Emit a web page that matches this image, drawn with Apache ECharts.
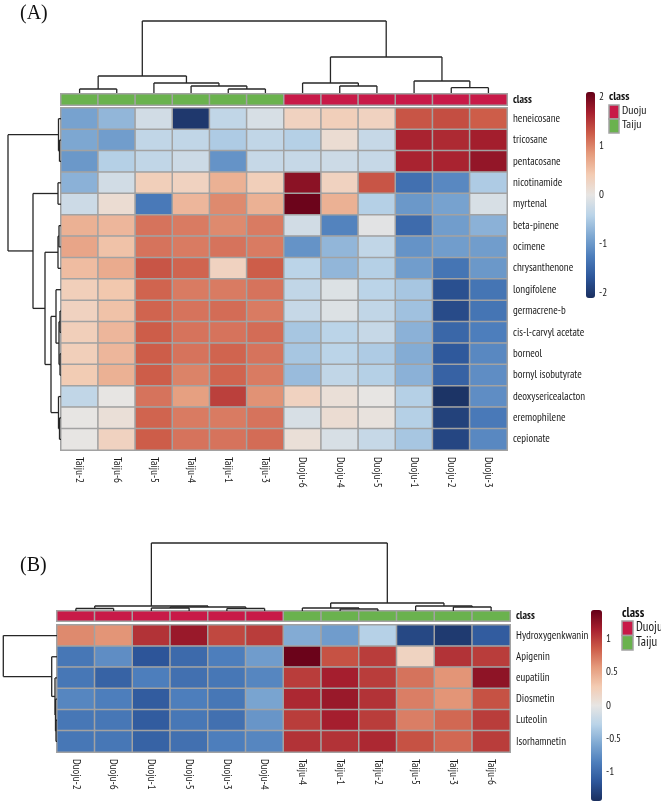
<!DOCTYPE html>
<html><head><meta charset="utf-8">
<script src="https://cdn.jsdelivr.net/npm/echarts@6/dist/echarts.min.js"></script>
<style>html,body{margin:0;padding:0;background:#fff}#c{width:661px;height:803px}</style>
</head><body><div id="c"></div><script>
// ---------- Panel A data ----------
const samplesA = ['Taiju-2','Taiju-6','Taiju-5','Taiju-4','Taiju-1','Taiju-3','Duoju-6','Duoju-4','Duoju-5','Duoju-1','Duoju-2','Duoju-3'];
const classA = [1,1,1,1,1,1,0,0,0,0,0,0]; // 0 = Duoju, 1 = Taiju
const compoundsA = ['heneicosane','tricosane','pentacosane','nicotinamide','myrtenal','beta-pinene','ocimene','chrysanthenone','longifolene','germacrene-b','cis-l-carvyl acetate','borneol','bornyl isobutyrate','deoxysericealacton','eremophilene','cepionate'];
const valuesA = [
  [-0.9,-0.7,-0.2,-2.0,-0.35,-0.15, 0.3, 0.35, 0.3, 1.3, 1.35, 1.25],
  [-0.85,-0.95,-0.35,-0.35,-0.5,-0.35,-0.45, 0.15,-0.3, 1.65, 1.6, 1.7],
  [-1.0,-0.45,-0.35,-0.25,-1.05,-0.3,-0.3,-0.25,-0.3, 1.65, 1.65, 1.8],
  [-0.75,-0.2, 0.35, 0.3, 0.65, 0.35, 1.85, 0.3, 1.3,-1.4,-1.15,-0.5],
  [-0.25, 0.15,-1.3, 0.6, 0.95, 0.65, 2.05, 0.65,-0.45,-1.0,-0.9,-0.15],
  [0.65, 0.6, 1.1, 1.05, 0.95, 1.05,-0.2,-1.2,-0.05,-1.45,-0.95,-0.75],
  [0.75, 0.5, 1.1, 1.05, 1.1, 1.05,-1.05,-0.7,-0.35,-1.05,-0.95,-0.95],
  [0.55, 0.7, 1.3, 1.2, 0.3, 1.25,-0.4,-0.7,-0.45,-0.95,-1.35,-1.0],
  [0.35, 0.45, 1.2, 1.05, 1.05, 1.1,-0.35,-0.1,-0.4,-0.55,-1.75,-1.35],
  [0.3, 0.5, 1.2, 1.1, 1.15, 1.05,-0.3,-0.1,-0.35,-0.6,-1.8,-1.35],
  [0.35, 0.6, 1.25, 1.1, 1.1, 1.15,-0.55,-0.4,-0.3,-0.75,-1.5,-1.25],
  [0.35, 0.6, 1.25, 1.1, 1.2, 1.1,-0.55,-0.4,-0.5,-0.8,-1.65,-1.15],
  [0.4, 0.65, 1.25, 1.0, 1.2, 1.05,-0.65,-0.35,-0.45,-0.75,-1.55,-1.1],
  [-0.35, 0.0, 1.1, 0.8, 1.45, 0.9, 0.3, 0.1, 0.0,-0.45,-2.05,-1.1],
  [0.0, 0.1, 1.2, 1.05, 1.05, 1.1,-0.15, 0.15, 0.05,-0.45,-1.9,-1.3],
  [0.0, 0.3, 1.25, 1.1, 1.1, 1.15, 0.1,-0.15,-0.3,-0.55,-1.85,-1.15]
];
// merges: [childA, childB, height]; leaves are 0..n-1, merge k is node n+k
const colMergesA = [[0,1,4],[4,5,4],[3,13,7],[2,14,10],[12,15,17],[7,8,7],[6,17,10],[10,11,5.3],[9,19,12],[18,20,36],[16,21,72]];
const rowMergesA = [[1,2,1.5],[0,16,2.5],[3,4,3],[5,6,2],[19,7,3],[9,10,1],[11,12,1],[21,22,2],[8,23,5],[14,15,1.5],[13,25,2.5],[24,26,10],[20,27,16],[18,28,28],[17,29,53]];
const ticksA = [-2,-1,0,1,2];
const rangeA = [-2.1, 2.1];

// ---------- Panel B data ----------
const samplesB = ['Duoju-2','Duoju-6','Duoju-1','Duoju-5','Duoju-3','Duoju-4','Taiju-4','Taiju-1','Taiju-2','Taiju-5','Taiju-3','Taiju-6'];
const classB = [0,0,0,0,0,0,1,1,1,1,1,1];
const compoundsB = ['Hydroxygenkwanin','Apigenin','eupatilin','Diosmetin','Luteolin','Isorhamnetin'];
const valuesB = [
  [0.65, 0.6, 1.05, 1.2, 0.95, 1.0,-0.55,-0.65,-0.3,-1.25,-1.35,-1.1],
  [-0.9,-0.75,-1.15,-1.0,-0.85,-0.65, 1.4, 0.9, 1.0, 0.2, 1.05, 1.0],
  [-0.9,-1.05,-0.85,-0.95,-0.9,-0.8, 1.0, 1.15, 1.0, 0.75, 0.6, 1.25],
  [-0.8,-0.85,-1.1,-0.85,-0.9,-0.6, 1.1, 1.2, 1.05, 0.7, 0.6, 0.9],
  [-0.9,-0.9,-1.1,-0.9,-0.95,-0.7, 1.0, 1.15, 1.0, 0.7, 0.8, 1.0],
  [-0.9,-0.9,-1.05,-0.95,-0.85,-0.8, 1.05, 1.05, 1.1, 0.9, 0.8, 1.0]
];
const colMergesB = [[0,1,2.5],[2,3,3],[4,5,2.5],[13,14,4],[12,15,5],[7,8,2],[6,17,3],[10,11,4],[9,19,5],[18,20,8],[16,21,68]];
const rowMergesB = [[4,5,1],[3,6,1.5],[2,7,2],[1,8,5.3],[0,9,53.7]];
const ticksB = [-1,-0.5,0,0.5,1];
const rangeB = [-1.43, 1.43];

const classNames = ['Duoju','Taiju'];
const classColors = ['#c81a48','#6ab24e'];
const palette = ['#1a2f5f','#2d569a','#4c7dbb','#7ea8d2','#b9d3e8','#e7e5e3','#f3cbb2','#e59b7c','#cc5b48','#a61f2e','#640018'];

const FONT = "'PT Sans Narrow','Roboto Condensed','Liberation Sans',Arial,sans-serif";

// ---------- helpers ----------
function heatData(vals){ const d=[]; vals.forEach((row,r)=>row.forEach((v,c)=>d.push([c,r,v]))); return d; }
function classData(cls){ return cls.map((v,i)=>[i,0,v]); }
function dendroSegs(n, merges){
  const pos=[], h=[]; for(let i=0;i<n;i++){pos.push(i+0.5);h.push(0);}
  const segs=[];
  merges.forEach(m=>{
    const a=m[0], b=m[1], H=m[2];
    segs.push([pos[a],h[a],pos[a],H]);
    segs.push([pos[a],H,pos[b],H]);
    segs.push([pos[b],H,pos[b],h[b]]);
    pos.push((pos[a]+pos[b])/2); h.push(H);
  });
  return segs;
}
function dendroSeries(xi, segs, horizontal){
  const data = horizontal ? segs.map(s=>[s[1],s[0],s[3],s[2]]) : segs;
  return {type:'custom', xAxisIndex:xi, yAxisIndex:xi, silent:true, animation:false,
    dimensions:['x1','y1','x2','y2'], encode:{x:[0,2], y:[1,3]}, data:data,
    renderItem:function(params, api){
      const p1=api.coord([api.value(0),api.value(1)]), p2=api.coord([api.value(2),api.value(3)]);
      return {type:'line', shape:{x1:p1[0],y1:p1[1],x2:p2[0],y2:p2[1]}, style:{stroke:'#262626', lineWidth:1.3}};
    }};
}
const hid = {show:false};
function catAxis(gi, data, extra){ return Object.assign({type:'category', gridIndex:gi, data:data, axisLine:hid, axisTick:hid, splitLine:hid}, extra||{}); }
function valAxis(gi, extra){ return Object.assign({type:'value', gridIndex:gi, axisLine:hid, axisTick:hid, splitLine:hid, axisLabel:hid}, extra||{}); }

// ---------- layout ----------
const A = {left:61, top:108, width:446, height:342, classTop:94, classH:11, dTop:21, dH:72, rLeft:4, cbLeft:586, cbTop:92, cbW:9, cbH:206};
const B = {left:57, top:625, width:453, height:127, classTop:611, classH:10, dTop:543, dH:68, rLeft:3, cbLeft:591, cbTop:610, cbW:11, cbH:191};

const grids=[], xAxes=[], yAxes=[], series=[], vms=[], graphics=[];
function panel(P, samples, cls, compounds, vals, colM, rowM, ticks, range, fs){
  const g0 = grids.length;
  grids.push({left:P.left, top:P.top, width:P.width, height:P.height});
  xAxes.push(catAxis(g0, samples, {position:'bottom', axisLabel:{rotate:-90, margin:7, fontSize:fs, color:'#1a1a1a', fontFamily:FONT}}));
  yAxes.push(catAxis(g0, compounds, {inverse:true, position:'right', axisLabel:{margin:6, fontSize:fs, color:'#1a1a1a', fontFamily:FONT}}));
  const sHeat = series.length;
  series.push({type:'heatmap', xAxisIndex:g0, yAxisIndex:g0, data:heatData(vals), itemStyle:{borderColor:'#a2a2a2', borderWidth:1.5}, emphasis:{disabled:true}, silent:true});
  grids.push({left:P.left, top:P.classTop, width:P.width, height:P.classH});
  xAxes.push(catAxis(g0+1, samples, {axisLabel:hid}));
  yAxes.push(catAxis(g0+1, ['class'], {position:'right', axisLabel:{margin:6, fontSize:fs, fontWeight:'bold', color:'#111', fontFamily:FONT}}));
  const sClass = series.length;
  series.push({type:'heatmap', xAxisIndex:g0+1, yAxisIndex:g0+1, data:classData(cls), itemStyle:{borderColor:'#a2a2a2', borderWidth:1.5}, emphasis:{disabled:true}, silent:true});
  grids.push({left:P.left, top:P.dTop, width:P.width, height:P.dH});
  xAxes.push(valAxis(g0+2, {min:0, max:samples.length}));
  yAxes.push(valAxis(g0+2, {min:0, max:P.dH}));
  series.push(dendroSeries(g0+2, dendroSegs(samples.length, colM), false));
  const rw = P.left - P.rLeft;
  grids.push({left:P.rLeft, top:P.top, width:rw, height:P.height});
  xAxes.push(valAxis(g0+3, {min:0, max:rw, inverse:true}));
  yAxes.push(valAxis(g0+3, {min:0, max:compounds.length, inverse:true}));
  series.push(dendroSeries(g0+3, dendroSegs(compounds.length, rowM), true));
  grids.push({left:P.cbLeft, top:P.cbTop, width:P.cbW, height:P.cbH});
  xAxes.push(valAxis(g0+4, {min:0, max:1}));
  yAxes.push(valAxis(g0+4, {min:range[0], max:range[1], position:'right',
    axisLabel:{show:true, margin:4, fontSize:fs, color:'#1a1a1a', fontFamily:FONT, customValues:ticks}}));
  vms.push({type:'continuous', seriesIndex:sHeat, min:range[0], max:range[1], inRange:{color:palette},
    show:true, left:P.cbLeft, top:P.cbTop, itemWidth:P.cbW, itemHeight:P.cbH, padding:0, calculable:false, hoverLink:false, text:null});
  vms.push({type:'piecewise', seriesIndex:sClass, show:false, pieces:[{value:0, color:classColors[0]},{value:1, color:classColors[1]}]});
}
panel(A, samplesA, classA, compoundsA, valuesA, colMergesA, rowMergesA, ticksA, rangeA, 11);
panel(B, samplesB, classB, compoundsB, valuesB, colMergesB, rowMergesB, ticksB, rangeB, 11);

function classLegend(x, y, bw, bh, fs){
  graphics.push({type:'text', left:x, top:y-14, style:{text:'class', font:'bold '+(fs+1)+'px '+FONT, fill:'#111'}});
  classNames.forEach((n,i)=>{
    graphics.push({type:'rect', shape:{x:x, y:y+i*bh, width:bw, height:bh}, style:{fill:classColors[i], stroke:'#a2a2a2', lineWidth:1.5}});
    graphics.push({type:'text', left:x+bw+3, top:y+i*bh+bh/2-7, style:{text:n, font:(fs+1)+'px '+FONT, fill:'#1a1a1a'}});
  });
}
classLegend(609, 105, 10, 14, 11);
classLegend(622, 621, 11, 14.5, 12);
graphics.push({type:'text', left:20, top:4, style:{text:'(A)', font:'20px "Liberation Serif", serif', fill:'#111'}});
graphics.push({type:'text', left:20, top:556, style:{text:'(B)', font:'20px "Liberation Serif", serif', fill:'#111'}});

const chart = echarts.init(document.getElementById('c'), null, {renderer:'canvas'});
chart.setOption({animation:false, grid:grids, xAxis:xAxes, yAxis:yAxes, series:series, visualMap:vms, graphic:graphics});
</script></body></html>
